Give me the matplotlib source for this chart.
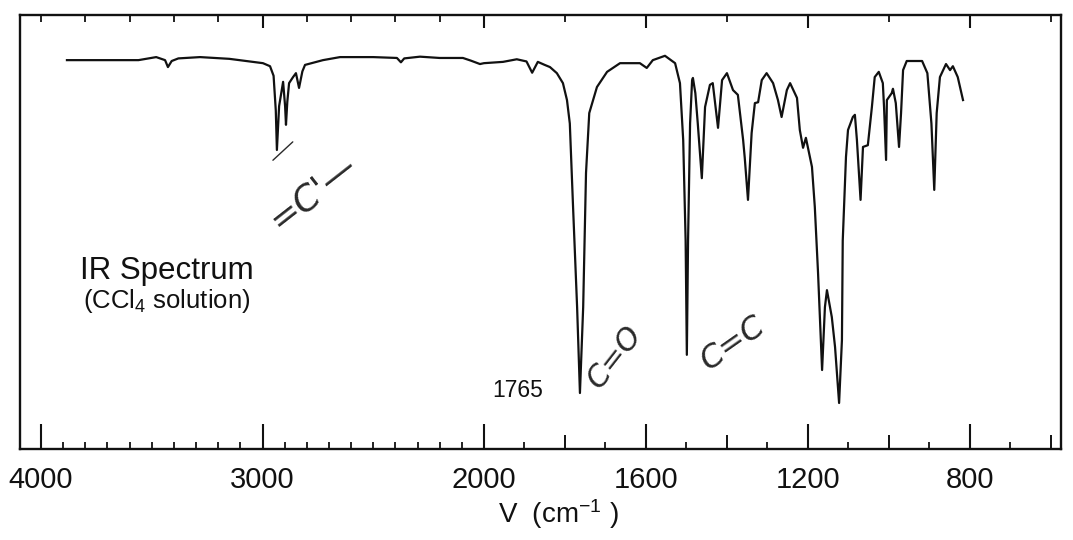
import numpy as np
import matplotlib
matplotlib.use('Agg')
import matplotlib.pyplot as plt
from matplotlib.ticker import FixedLocator, FixedFormatter, NullFormatter, NullLocator

plt.rcParams['font.family'] = ['Liberation Sans', 'DejaVu Sans']
plt.rcParams['mathtext.fontset'] = 'custom'
plt.rcParams['mathtext.rm'] = 'Liberation Sans'
plt.rcParams['mathtext.it'] = 'Liberation Sans:italic'
plt.rcParams['mathtext.bf'] = 'Liberation Sans:bold'

# ---------------- data ----------------
wavenumber = [3883, 3700, 3560, 3480, 3440, 3427, 3410, 3380, 3282, 3150, 3043, 2998,
              2966, 2950, 2940, 2935, 2925, 2907, 2898, 2894, 2888, 2880, 2862, 2849,
              2835, 2820, 2808, 2727, 2650, 2500, 2393, 2375, 2360, 2289, 2200, 2095,
              2060, 2018, 2000, 1953, 1919, 1895, 1881, 1867, 1850, 1837, 1820, 1805,
              1795, 1788, 1780, 1770, 1763, 1755, 1748, 1740, 1721, 1696, 1664, 1615,
              1598, 1583, 1553, 1528, 1516, 1508, 1502, 1499, 1496, 1491, 1486, 1484,
              1478, 1472, 1462, 1454, 1442, 1435, 1422, 1412, 1400, 1385, 1373, 1360,
              1356, 1348, 1339, 1331, 1323, 1314, 1302, 1286, 1274, 1265, 1252, 1244,
              1227, 1220, 1212, 1205, 1190, 1183, 1175, 1165, 1158, 1153, 1141, 1133,
              1123, 1116, 1114, 1106, 1101, 1089, 1084, 1079, 1070, 1064, 1052, 1042,
              1035, 1025, 1015, 1012, 1007, 1005, 993, 990, 983, 975, 970, 965,
              956, 918, 905, 895, 888, 882, 874, 859, 849, 842, 830, 817]
transmittance = [89.6, 89.6, 89.6, 90.3, 89.6, 88.0, 89.4, 90.0, 90.3, 89.9, 89.2, 88.9,
                 88.2, 86.0, 78.0, 68.9, 79.0, 84.6, 79.0, 74.7, 80.0, 84.3, 85.7, 86.6,
                 83.2, 87.0, 88.5, 89.6, 90.3, 90.3, 90.1, 89.1, 90.0, 90.4, 90.1, 90.1,
                 89.5, 88.7, 88.9, 89.2, 89.8, 89.3, 86.7, 89.2, 88.5, 88.0, 86.6, 84.3,
                 80.4, 75.0, 55.8, 32.7, 12.9, 32.7, 63.6, 77.4, 83.4, 86.9, 88.9, 88.9,
                 87.8, 89.6, 90.6, 88.9, 84.3, 71.2, 48.0, 21.7, 48.0, 75.0, 85.0, 85.5,
                 82.0, 75.0, 62.4, 78.8, 83.9, 84.3, 74.0, 85.0, 86.6, 82.7, 81.6, 71.2,
                 67.1, 57.4, 72.8, 79.7, 79.9, 85.0, 86.6, 84.3, 80.4, 76.5, 82.7, 84.3,
                 80.9, 73.5, 69.4, 71.7, 65.0, 55.8, 40.6, 18.2, 32.7, 36.6, 30.4, 23.5,
                 10.6, 25.1, 48.0, 67.3, 73.5, 76.5, 77.0, 71.2, 57.4, 69.6, 70.0, 78.8,
                 85.7, 86.9, 84.3, 78.8, 66.6, 80.4, 82.0, 83.0, 79.7, 69.6, 77.4, 87.3,
                 89.4, 89.4, 86.6, 75.0, 59.7, 77.4, 85.7, 88.7, 87.3, 88.2, 85.7, 80.4]

major_ticks = [4000, 3000, 2000, 1600, 1200, 800]
major_labels = ['4000', '3000', '2000', '1600', '1200', '800']
medium_ticks = [1800, 1400, 1000, 600]
minor_ticks = [v for v in range(4000, 599, -100) if v not in major_ticks + medium_ticks]
top_major_ticks = [3000, 2000, 1600, 1200, 800]
top_minor_ticks = [v for v in range(4000, 599, -200) if v not in top_major_ticks]

# ---------------- non-linear wavenumber scale (break at 2000) ----------------
def fwd(v):
    v = np.asarray(v, dtype=float)
    return np.where(v >= 2000, (v - 2000) * 0.2215, (v - 2000) * 0.405)

def inv(u):
    u = np.asarray(u, dtype=float)
    return np.where(u >= 0, 2000 + u / 0.2215, 2000 + u / 0.405)

XLIM = (4095, 575)
W, H = 1073, 540
rect = [20 / W, 91 / H, 1041 / W, 434 / H]

fig = plt.figure(figsize=(W / 100, H / 100), dpi=100)
fig.patch.set_facecolor('white')
ax = fig.add_axes(rect)
ax.set_xscale('function', functions=(fwd, inv))
ax.set_xlim(*XLIM)
ax.set_ylim(0, 100)

ax.plot(wavenumber, transmittance, color='#111111', lw=1.6, solid_joinstyle='round')

for s in ax.spines.values():
    s.set_linewidth(1.7)
    s.set_color('#111111')

ax.yaxis.set_major_locator(NullLocator())
ax.xaxis.set_major_locator(FixedLocator(major_ticks))
ax.xaxis.set_major_formatter(FixedFormatter(major_labels))
ax.xaxis.set_minor_locator(FixedLocator(minor_ticks))
ax.xaxis.set_minor_formatter(NullFormatter())
ax.tick_params(axis='x', which='major', direction='in', length=18, width=1.5,
               labelsize=21, pad=12, top=False, colors='#111111')
ax.tick_params(axis='x', which='minor', direction='in', length=5, width=1.3, top=False,
               colors='#111111')

# medium bottom ticks (overlay axes)
ax3 = fig.add_axes(rect, frameon=False)
ax3.set_xscale('function', functions=(fwd, inv))
ax3.set_xlim(*XLIM)
ax3.set_ylim(0, 100)
ax3.patch.set_visible(False)
ax3.yaxis.set_major_locator(NullLocator())
ax3.xaxis.set_major_locator(FixedLocator(medium_ticks))
ax3.xaxis.set_major_formatter(NullFormatter())
ax3.xaxis.set_minor_locator(NullLocator())
ax3.tick_params(axis='x', which='major', direction='in', length=10, width=1.4,
                colors='#111111')

# top ticks (overlay axes)
ax2 = fig.add_axes(rect, frameon=False)
ax2.set_xscale('function', functions=(fwd, inv))
ax2.set_xlim(*XLIM)
ax2.set_ylim(0, 100)
ax2.patch.set_visible(False)
ax2.yaxis.set_major_locator(NullLocator())
ax2.xaxis.tick_top()
ax2.xaxis.set_major_locator(FixedLocator(top_major_ticks))
ax2.xaxis.set_major_formatter(NullFormatter())
ax2.xaxis.set_minor_locator(FixedLocator(top_minor_ticks))
ax2.xaxis.set_minor_formatter(NullFormatter())
ax2.tick_params(axis='x', which='major', direction='in', length=9, width=1.5,
                bottom=False, colors='#111111')
ax2.tick_params(axis='x', which='minor', direction='in', length=5, width=1.3,
                bottom=False, colors='#111111')

# axis label
ax.set_xlabel('V  (cm$^{-1}$ )', fontsize=20, color='#111111')
ax.xaxis.set_label_coords(0.517, -0.110)

# printed annotations
ax.text(0.141, 0.392, 'IR Spectrum', transform=ax.transAxes, ha='center',
        va='baseline', fontsize=22.5, color='#111111')
ax.text(0.141, 0.325, '(CCl$_4$ solution)', transform=ax.transAxes, ha='center',
        va='baseline', fontsize=18.5, color='#111111')
ax.text(0.4534, 0.12, '1765', transform=ax.transAxes, ha='left', va='baseline',
        fontsize=16.5, color='#111111')

# handwritten notes
hw = dict(transform=ax.transAxes, ha='center', va='center', rotation_mode='anchor',
          color='#2a2a2a', fontstyle='italic', fontweight='light',
          family=['DejaVu Sans'])
ax.text(0.5716, 0.212, 'C=O', rotation=52, fontsize=22, **hw)
ax.text(0.685, 0.242, 'C=C', rotation=35, fontsize=23, **hw)
ax.text(0.281, 0.590, "=C'\u2014", rotation=38, fontsize=26, **hw)
ax.annotate('', xy=(0.264, 0.712), xytext=(0.241, 0.661), xycoords='axes fraction',
            textcoords='axes fraction',
            arrowprops=dict(arrowstyle='-', color='#2a2a2a', lw=1.0))

fig.savefig('out.png', dpi=100, facecolor='white')
